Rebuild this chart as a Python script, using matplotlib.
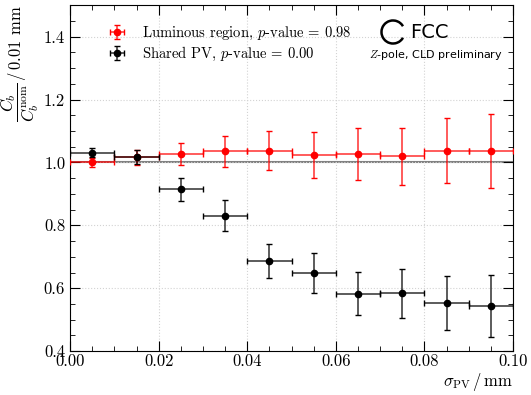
import matplotlib
matplotlib.use("Agg")
import matplotlib.pyplot as plt
from matplotlib.patches import Arc

plt.rcParams['font.family'] = 'serif'
plt.rcParams['font.serif'] = ['cmr10']
plt.rcParams['mathtext.fontset'] = 'cm'
plt.rcParams['axes.formatter.use_mathtext'] = True

# bin centres and half-widths (mm)
sigma_pv = [0.005, 0.015, 0.025, 0.035, 0.045, 0.055, 0.065, 0.075, 0.085, 0.095]
bin_half = [0.005] * 10

lum_val = [1.000, 1.016, 1.027, 1.035, 1.037, 1.023, 1.027, 1.019, 1.037, 1.037]
lum_err = [0.014, 0.024, 0.035, 0.050, 0.062, 0.073, 0.083, 0.091, 0.103, 0.118]

pv_val = [1.031, 1.017, 0.914, 0.831, 0.686, 0.649, 0.583, 0.584, 0.554, 0.544]
pv_err = [0.015, 0.022, 0.036, 0.048, 0.055, 0.063, 0.069, 0.078, 0.086, 0.098]

fig = plt.figure(figsize=(5.31, 3.95), dpi=100)
ax = fig.add_axes([0.132, 0.111, 0.834, 0.876])

ax.axhline(1.0, color='gray', lw=1.5, zorder=1)

for vals, errs, col, lab in [(lum_val, lum_err, 'red', r'Luminous region, $p$-value = 0.98'),
                             (pv_val, pv_err, 'black', r'Shared PV, $p$-value = 0.00')]:
    eb = ax.errorbar(sigma_pv, vals, xerr=bin_half, yerr=errs, fmt='o', color=col,
                     ms=4.5, elinewidth=1.2, capsize=2, capthick=1, label=lab, zorder=3)
    for ln in eb[2]:
        ln.set_alpha(0.75)

ax.set_xlim(0, 0.1)
ax.set_ylim(0.4, 1.5)
ax.set_xticks([0.0, 0.02, 0.04, 0.06, 0.08, 0.10])
ax.set_xticklabels(['0.00', '0.02', '0.04', '0.06', '0.08', '0.10'])
ax.set_yticks([0.4, 0.6, 0.8, 1.0, 1.2, 1.4])
ax.set_yticklabels(['0.4', '0.6', '0.8', '1.0', '1.2', '1.4'])
ax.xaxis.set_minor_locator(matplotlib.ticker.MultipleLocator(0.005))
ax.yaxis.set_minor_locator(matplotlib.ticker.MultipleLocator(0.05))
ax.tick_params(which='both', direction='in', top=True, right=True, labelsize=12)
ax.tick_params(which='major', length=7)
ax.tick_params(which='minor', length=3.5)
ax.tick_params(axis='x', pad=2)
ax.grid(True, which='major', ls=':', color='lightgray', lw=0.8)

ax.set_xlabel(r'$\sigma_{\rm PV}\,/\,$mm', loc='right', fontsize=12, labelpad=1)
ax.set_ylabel(r'$\dfrac{C_b}{C_b^{\rm nom}}\,/\,$0.01 mm', loc='top', fontsize=12, labelpad=2)

ax.legend(loc='upper left', frameon=False, fontsize=10.5, bbox_to_anchor=(0.05, 0.98),
          handletextpad=0.9, handlelength=1.6, labelspacing=0.2)

# FCC logo
fig.add_artist(Arc((3.93, 3.63), 0.23, 0.23, theta1=30, theta2=330, lw=1.8,
                   color='black', transform=fig.dpi_scale_trans))
fig.text(4.10 / 5.31, 3.63 / 3.95, 'FCC', family='DejaVu Sans', fontsize=14,
         va='center', ha='left')
fig.text(5.03 / 5.31, 3.40 / 3.95, r'$\it{Z}$-pole, CLD preliminary', family='DejaVu Sans',
         fontsize=8, va='center', ha='right')

fig.savefig('out.png', dpi=100)
